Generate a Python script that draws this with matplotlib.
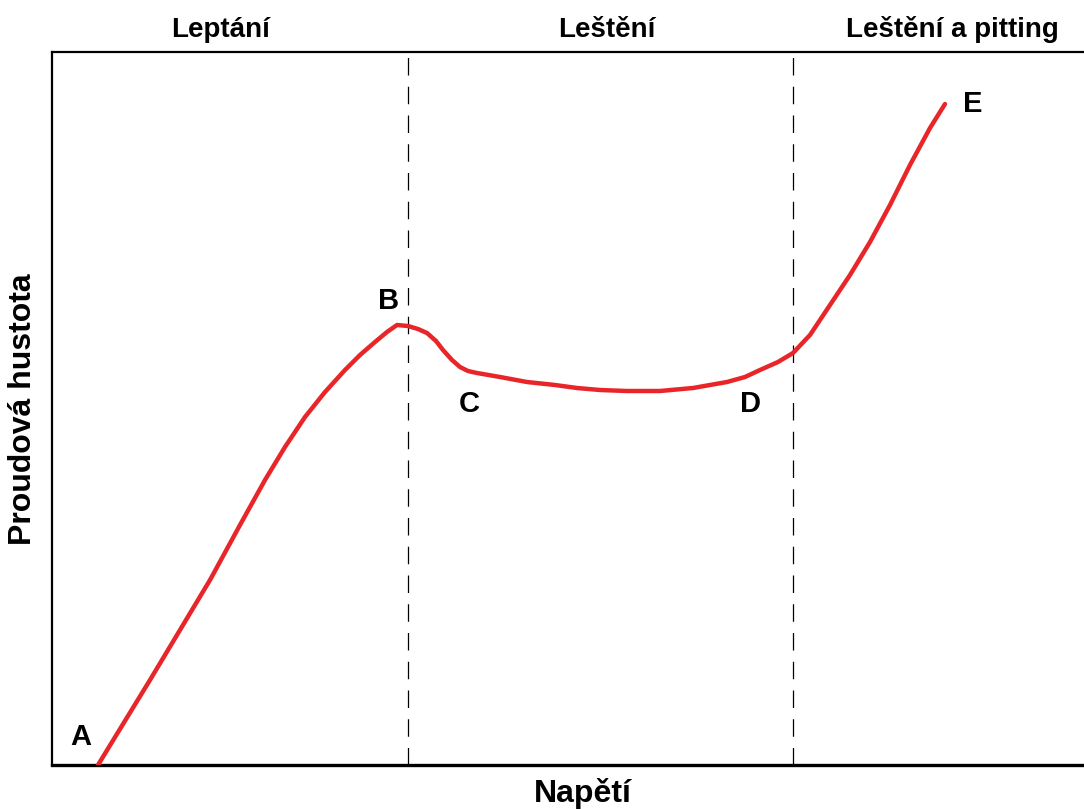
import matplotlib.pyplot as plt

plt.rcParams['font.family'] = ['Liberation Sans', 'DejaVu Sans']

# curve (voltage, current density) in picture units
napeti = [98, 120, 150, 180, 210, 240, 265, 285, 305, 325, 345, 360, 375, 387, 397,
          408, 418, 427, 436, 443, 452, 460, 468, 477, 500, 527, 555, 577, 600,
          627, 660, 693, 727, 745, 760, 778, 793, 810, 830, 850, 870, 890, 910,
          930, 945]
proud = [0, 36, 85, 135, 185, 240, 285, 318, 348, 373, 395, 410, 423, 433, 440,
         439, 436, 432, 424, 415, 405, 398, 394, 392, 388, 383, 380, 377, 375,
         374, 374, 377, 383, 388, 395, 403, 412, 430, 460, 490, 523, 560, 600,
         637, 661]

hranice = [408, 793]
oblasti = ["Leptání", "Leštění", "Leštění a pitting"]
oblasti_x = [221, 607, 952]
body = ["A", "B", "C", "D", "E"]
body_x = [81, 389, 469, 750, 973]
body_y = [20, 456, 353, 353, 653]

fig = plt.figure(figsize=(10.84, 8.09), dpi=100)
ax = fig.add_axes([52 / 1084, 44 / 809, 1.0, 713 / 809])
ax.set_xlim(52, 52 + 1084)
ax.set_ylim(0, 713)

ax.plot(napeti, proud, color="#e8262a", lw=3.2, solid_capstyle="round", zorder=3)

for xh in hranice:
    ax.axvline(xh, color="black", lw=0.9, linestyle=(0, (14, 9)), zorder=1)

for name, xo in zip(oblasti, oblasti_x):
    fig.text(xo / 1084, 1 - 37 / 809, name, ha="center", va="baseline",
             fontsize=20, fontweight="bold")

for name, xb, yb in zip(body, body_x, body_y):
    ax.text(xb, yb, name, ha="center", va="baseline", fontsize=21, fontweight="bold")

ax.set_xticks([])
ax.set_yticks([])
ax.spines["right"].set_visible(False)
ax.spines["left"].set_linewidth(1.6)
ax.spines["top"].set_linewidth(1.6)
ax.spines["bottom"].set_linewidth(2.4)

fig.text(583 / 1084, 1 - 802 / 809, "Napětí", ha="center", va="baseline",
         fontsize=23, fontweight="bold")
fig.text(23 / 1084, 1 - 409 / 809, "Proudová hustota", ha="center", va="center",
         rotation=90, fontsize=23, fontweight="bold")

fig.savefig("out.png", dpi=100)
